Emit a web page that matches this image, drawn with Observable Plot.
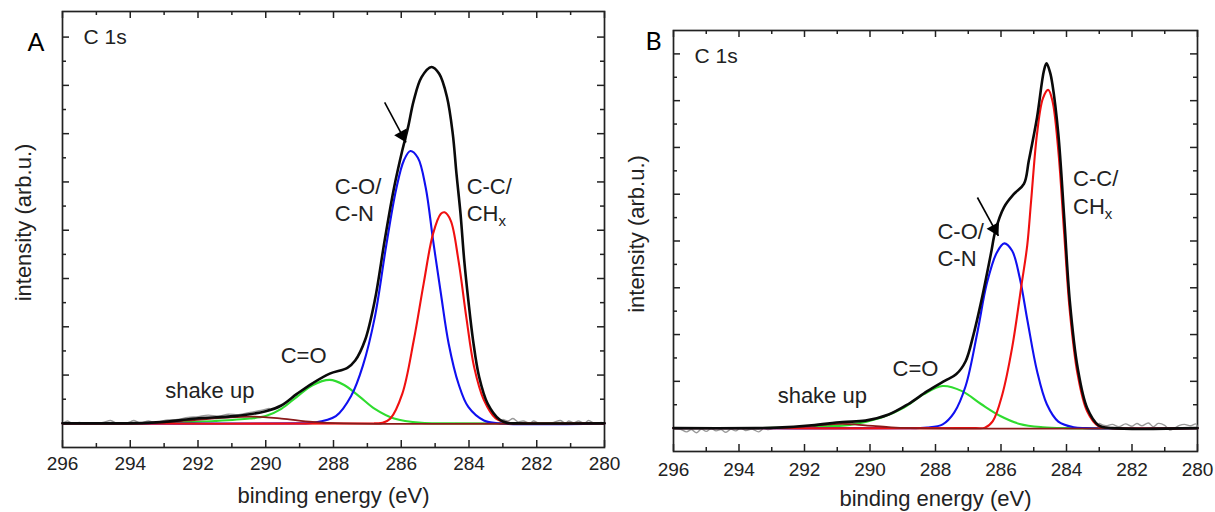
<!DOCTYPE html>
<html>
<head>
<meta charset="utf-8">
<script src="https://cdn.jsdelivr.net/npm/d3@7"></script>
<script src="https://cdn.jsdelivr.net/npm/@observablehq/plot@0.6"></script>
<style>
  body { margin: 0; background: #fff; }
  #wrap { position: relative; width: 1215px; height: 512px; overflow: hidden; }
  #panelA, #panelB { position: absolute; top: 0; }
  #panelA { left: 0; z-index: 1; }
  #panelB { left: 610px; }
  svg { overflow: visible; }
</style>
</head>
<body>
<div id="wrap">
  <div id="panelA"></div>
  <div id="panelB"></div>
</div>
<script>
// Axis ticks (binding energy in eV, intensity in arbitrary units)
const xMajor = [296, 294, 292, 290, 288, 286, 284, 282, 280];
const xMinor = [295, 293, 291, 289, 287, 285, 283, 281];
const yMajor = [0, 1, 2, 3, 4, 5, 6, 7, 8];
const yMinor = [0.5, 1.5, 2.5, 3.5, 4.5, 5.5, 6.5, 7.5];

// ---- Sample A: C 1s fit, [binding energy, intensity] ----
const aEnvelope = [[296,0],[294.5,0],[293.5,0.01],[293.0,0.03],[292.07,0.10],[290.92,0.15],[290.0,0.25],[289.54,0.37],[289.08,0.61],[288.62,0.83],[288.11,1.03],[287.59,1.15],[287.36,1.30],[287.07,1.72],[286.78,2.55],[286.49,3.79],[286.21,4.89],[285.97,5.65],[285.80,6.13],[285.63,6.69],[285.40,7.17],[285.11,7.38],[284.88,7.24],[284.65,6.76],[284.48,6.00],[284.37,5.17],[284.25,4.34],[284.14,3.37],[284.02,2.55],[283.88,1.72],[283.70,0.96],[283.45,0.41],[283.10,0.08],[282.87,0.01],[282.6,0],[280,0]];
const aCO = [[296,0],[289,0],[288.62,0.01],[287.93,0.15],[287.47,0.58],[287.13,1.2],[286.78,2.2],[286.44,3.7],[286.15,4.85],[285.92,5.45],[285.73,5.64],[285.51,5.5],[285.28,4.89],[285.06,3.79],[284.83,2.69],[284.60,1.65],[284.31,0.82],[284.02,0.34],[283.56,0.06],[283.1,0],[280,0]];
const aCC = [[296,0],[286.8,0],[286.55,0.01],[286.32,0.10],[285.97,0.61],[285.63,1.72],[285.34,2.89],[285.06,3.93],[284.83,4.34],[284.72,4.37],[284.54,4.20],[284.31,3.37],[284.08,2.20],[283.85,1.17],[283.56,0.48],[283.21,0.10],[282.85,0.01],[282.5,0],[280,0]];
const aCdO = [[296,0],[293.5,0],[293.0,0.01],[292.2,0.03],[291.5,0.05],[290.47,0.10],[290.0,0.15],[289.54,0.30],[289.08,0.55],[288.62,0.79],[288.11,0.90],[287.70,0.80],[287.24,0.56],[286.78,0.30],[286.21,0.10],[285.4,0.01],[284.6,0],[280,0]];
const aShake = [[296,0],[293.8,0],[293.0,0.02],[292.3,0.06],[291.16,0.12],[290.35,0.14],[289.54,0.10],[288.62,0.03],[287.7,0],[280,0]];
const aMeasuredLow = [[296,0.0],[295.85,0.05],[295.7,-0.01],[295.5,0.02],[295.3,-0.02],[295.1,0.01],[294.9,0.0],[294.75,0.03],[294.58,0.06],[294.4,0.0],[294.2,-0.01],[294.0,0.03],[293.9,0.06],[293.7,0.01],[293.46,0.05],[293.3,0.02],[293.1,0.04],[292.9,0.07],[292.6,0.08],[292.3,0.12],[292.0,0.14],[291.7,0.17],[291.4,0.15],[291.1,0.19],[290.8,0.18],[290.5,0.22],[290.2,0.26],[289.9,0.31]];
const aMeasuredHigh = [[283.0,0.08],[282.85,0.05],[282.7,0.1],[282.55,0.03],[282.4,0.05],[282.2,0.0],[282.1,0.05],[281.9,-0.01],[281.7,0.0],[281.5,0.02],[281.3,0.06],[281.15,0.0],[281.06,0.05],[280.9,0.01],[280.77,0.05],[280.6,0.0],[280.47,0.06],[280.3,0.0],[280.1,0.02],[280,0.0]];

// ---- Sample B: C 1s fit, [binding energy, intensity] ----
const bEnvelope = [[296,0],[293.5,0],[292.84,0.01],[291.78,0.06],[290.84,0.13],[290.14,0.16],[289.43,0.29],[288.84,0.51],[288.25,0.79],[287.72,1.01],[287.37,1.15],[287.08,1.43],[286.84,2.0],[286.60,2.72],[286.31,3.72],[286.17,4.22],[285.91,4.72],[285.61,5.0],[285.30,5.22],[285.15,5.72],[284.90,6.64],[284.69,7.64],[284.61,7.80],[284.50,7.6],[284.43,7.35],[284.25,6.29],[284.07,4.50],[283.90,2.72],[283.66,1.29],[283.37,0.43],[283.02,0.06],[282.6,0],[280,0]];
const bCO = [[296,0],[288.6,0],[288.25,0.01],[287.78,0.08],[287.43,0.33],[287.08,0.9],[286.72,2.05],[286.43,3.1],[286.13,3.75],[285.9,3.95],[285.66,3.79],[285.43,3.22],[285.19,2.29],[284.90,1.22],[284.60,0.51],[284.25,0.14],[283.78,0.02],[283.4,0],[280,0]];
const bCC = [[296,0],[286.8,0],[286.49,0.01],[286.25,0.15],[285.96,0.72],[285.66,1.72],[285.37,3.08],[285.2,3.9],[285.08,4.86],[284.90,6.29],[284.72,7.05],[284.56,7.23],[284.43,7.0],[284.25,5.93],[284.07,4.15],[283.90,2.51],[283.66,1.15],[283.37,0.36],[283.02,0.04],[282.6,0],[280,0]];
const bCdO = [[296,0],[293.5,0],[292.84,0.005],[291.78,0.03],[290.61,0.07],[289.67,0.22],[288.96,0.44],[288.37,0.72],[287.78,0.90],[287.19,0.79],[286.60,0.51],[286.02,0.26],[285.43,0.09],[284.72,0.02],[284.0,0],[280,0]];
const bShake = [[296,0],[293.0,0],[292.61,0.005],[291.78,0.05],[290.84,0.09],[290.14,0.06],[289.43,0.02],[288.8,0],[280,0]];
const bMeasuredLow = [[296,0],[295.8,-0.02],[295.6,-0.08],[295.45,-0.03],[295.3,-0.1],[295.15,-0.02],[295.0,-0.07],[294.85,-0.01],[294.7,-0.06],[294.55,-0.03],[294.4,-0.09],[294.25,-0.02],[294.1,-0.06],[293.95,0.0],[293.8,-0.05],[293.6,-0.02],[293.4,-0.08],[293.25,-0.01],[293.1,-0.03],[292.9,0.01]];
const bMeasuredHigh = [[283.0,0.1],[282.8,0.05],[282.6,0.08],[282.4,0.03],[282.2,0.09],[282.0,0.04],[281.85,0.1],[281.7,0.05],[281.5,0.11],[281.35,0.03],[281.2,0.1],[281.0,0.06],[280.85,-0.04],[280.7,0.0],[280.55,0.06],[280.4,0.08],[280.2,0.05],[280.05,0.09],[280,0.0]];

// Peak labels: text, energy and intensity of the label baseline start
const aLabels = [
  {text: "C-O/", x: 287.96, y: 4.76}, {text: "C-N", x: 287.96, y: 4.20},
  {text: "C-C/", x: 284.07, y: 4.76}, {text: "CHx", x: 284.07, y: 4.20},
  {text: "C=O", x: 289.56, y: 1.24}, {text: "shake up", x: 292.97, y: 0.52}
];
const bLabels = [
  {text: "C-O/", x: 287.94, y: 4.05}, {text: "C-N", x: 287.94, y: 3.47},
  {text: "C-C/", x: 283.80, y: 5.18}, {text: "CHx", x: 283.80, y: 4.58},
  {text: "C=O", x: 289.31, y: 1.11}, {text: "shake up", x: 292.82, y: 0.54}
];
// Arrows pointing at the C-O/C-N shoulder
const aArrow = [{x1: 286.49, y1: 6.65, x2: 285.86, y2: 5.82}];
const bArrow = [{x1: 286.72, y1: 4.93, x2: 286.08, y2: 4.11}];

const FONT = "'Liberation Sans', Arial, Helvetica, sans-serif";
const INK = "#222";

function panel(o) {
  const fw = o.width - o.marginLeft - o.marginRight;
  const fh = o.height - o.marginTop - o.marginBottom;
  const line = (data, stroke, strokeWidth) =>
    Plot.line(data, {x: d => d[0], y: d => d[1], curve: "catmull-rom", stroke, strokeWidth});
  const svg = Plot.plot({
    width: o.width, height: o.height,
    marginLeft: o.marginLeft, marginRight: o.marginRight,
    marginTop: o.marginTop, marginBottom: o.marginBottom,
    style: {fontFamily: FONT, background: "transparent", color: INK, overflow: "visible"},
    x: {domain: [296, 280], axis: null},
    y: {domain: o.yDomain, axis: null},
    marks: [
      // inward ticks on all four sides
      Plot.ruleX(xMajor, {x: d => d, insetTop: fh - 7, stroke: INK, strokeWidth: 1.5}),
      Plot.ruleX(xMinor, {x: d => d, insetTop: fh - 4, stroke: INK, strokeWidth: 1.5}),
      Plot.ruleX(xMajor, {x: d => d, insetBottom: fh - 7, stroke: INK, strokeWidth: 1.5}),
      Plot.ruleX(xMinor, {x: d => d, insetBottom: fh - 4, stroke: INK, strokeWidth: 1.5}),
      Plot.ruleY(yMajor, {y: d => d, insetRight: fw - 7, stroke: INK, strokeWidth: 1.5}),
      Plot.ruleY(yMinor, {y: d => d, insetRight: fw - 4, stroke: INK, strokeWidth: 1.5}),
      Plot.ruleY(yMajor, {y: d => d, insetLeft: fw - 7, stroke: INK, strokeWidth: 1.5}),
      Plot.ruleY(yMinor, {y: d => d, insetLeft: fw - 4, stroke: INK, strokeWidth: 1.5}),
      Plot.frame({stroke: INK, strokeWidth: 1.7}),
      Plot.axisX(xMajor, {tickSize: 0, tickPadding: o.tickPadding, fontSize: 19, fill: INK, label: null}),
      // measured spectrum (grey) behind the fit
      line(o.measuredLow, "#9a9a9a", 1.4),
      line(o.measuredHigh, "#9a9a9a", 1.4),
      // fitted components
      line(o.cdo, "#2fdc2f", 2.1),
      line(o.co, "#1010f0", 2.1),
      line(o.cc, "#f01010", 2.1),
      line(o.shake, "#8b1a1a", 1.8),
      // fit envelope
      line(o.envelope, "#0a0a0a", 2.6),
      // arrow
      Plot.link(o.arrow, {x1: "x1", y1: "y1", x2: "x2", y2: "y2", stroke: "#000", strokeWidth: 1.6}),
      Plot.dot(o.arrow, {x: "x2", y: "y2", symbol: "triangle", r: 5.2, fill: "#000", stroke: null, rotate: 152, dx: -3.7, dy: -6.9}),
      // labels
      Plot.text(o.labels, {x: "x", y: "y", text: "text", textAnchor: "start", lineAnchor: "bottom", fontSize: 22, fill: INK}),
      Plot.text(["C 1s"], {frameAnchor: "top-left", dx: 21, dy: 32, textAnchor: "start", lineAnchor: "bottom", fontSize: 21, fill: INK}),
      Plot.text([o.tag], {frameAnchor: "top-left", dx: o.tagDx, dy: o.tagDy, textAnchor: "start", lineAnchor: "bottom", fontSize: 25, fill: "#000", fontFamily: "Lato, 'Open Sans', sans-serif"}),
      Plot.text(["binding energy (eV)"], {frameAnchor: "bottom", dy: o.xLabelDy, textAnchor: "middle", lineAnchor: "bottom", fontSize: 22, fill: INK}),
      Plot.text(["intensity (arb.u.)"], {frameAnchor: "left", dx: o.yLabelDx, dy: -7, rotate: -90, textAnchor: "middle", lineAnchor: "middle", fontSize: 22, fill: INK})
    ]
  });
  // subscript x in CHx
  d3.select(svg).selectAll("text").each(function () {
    if (this.textContent === "CHx") {
      const t = d3.select(this);
      t.text("CH");
      t.append("tspan").attr("font-size", 15).attr("dy", "0.35em").text("x");
    }
  });
  return svg;
}

document.getElementById("panelA").append(panel({
  width: 610, height: 512, marginLeft: 62, marginRight: 6, marginTop: 11, marginBottom: 65,
  yDomain: [-0.5, 8.53], tickPadding: 9, xLabelDy: 55, yLabelDx: -39, tag: "A", tagDx: -35, tagDy: 39,
  envelope: aEnvelope, co: aCO, cc: aCC, cdo: aCdO, shake: aShake,
  measuredLow: aMeasuredLow, measuredHigh: aMeasuredHigh, labels: aLabels, arrow: aArrow
}));
document.getElementById("panelB").append(panel({
  width: 605, height: 512, marginLeft: 63, marginRight: 18, marginTop: 30, marginBottom: 61,
  yDomain: [-0.5, 8.5], tickPadding: 11, xLabelDy: 54, yLabelDx: -37, tag: "B", tagDx: -28, tagDy: 19,
  envelope: bEnvelope, co: bCO, cc: bCC, cdo: bCdO, shake: bShake,
  measuredLow: bMeasuredLow, measuredHigh: bMeasuredHigh, labels: bLabels, arrow: bArrow
}));
</script>
</body>
</html>
